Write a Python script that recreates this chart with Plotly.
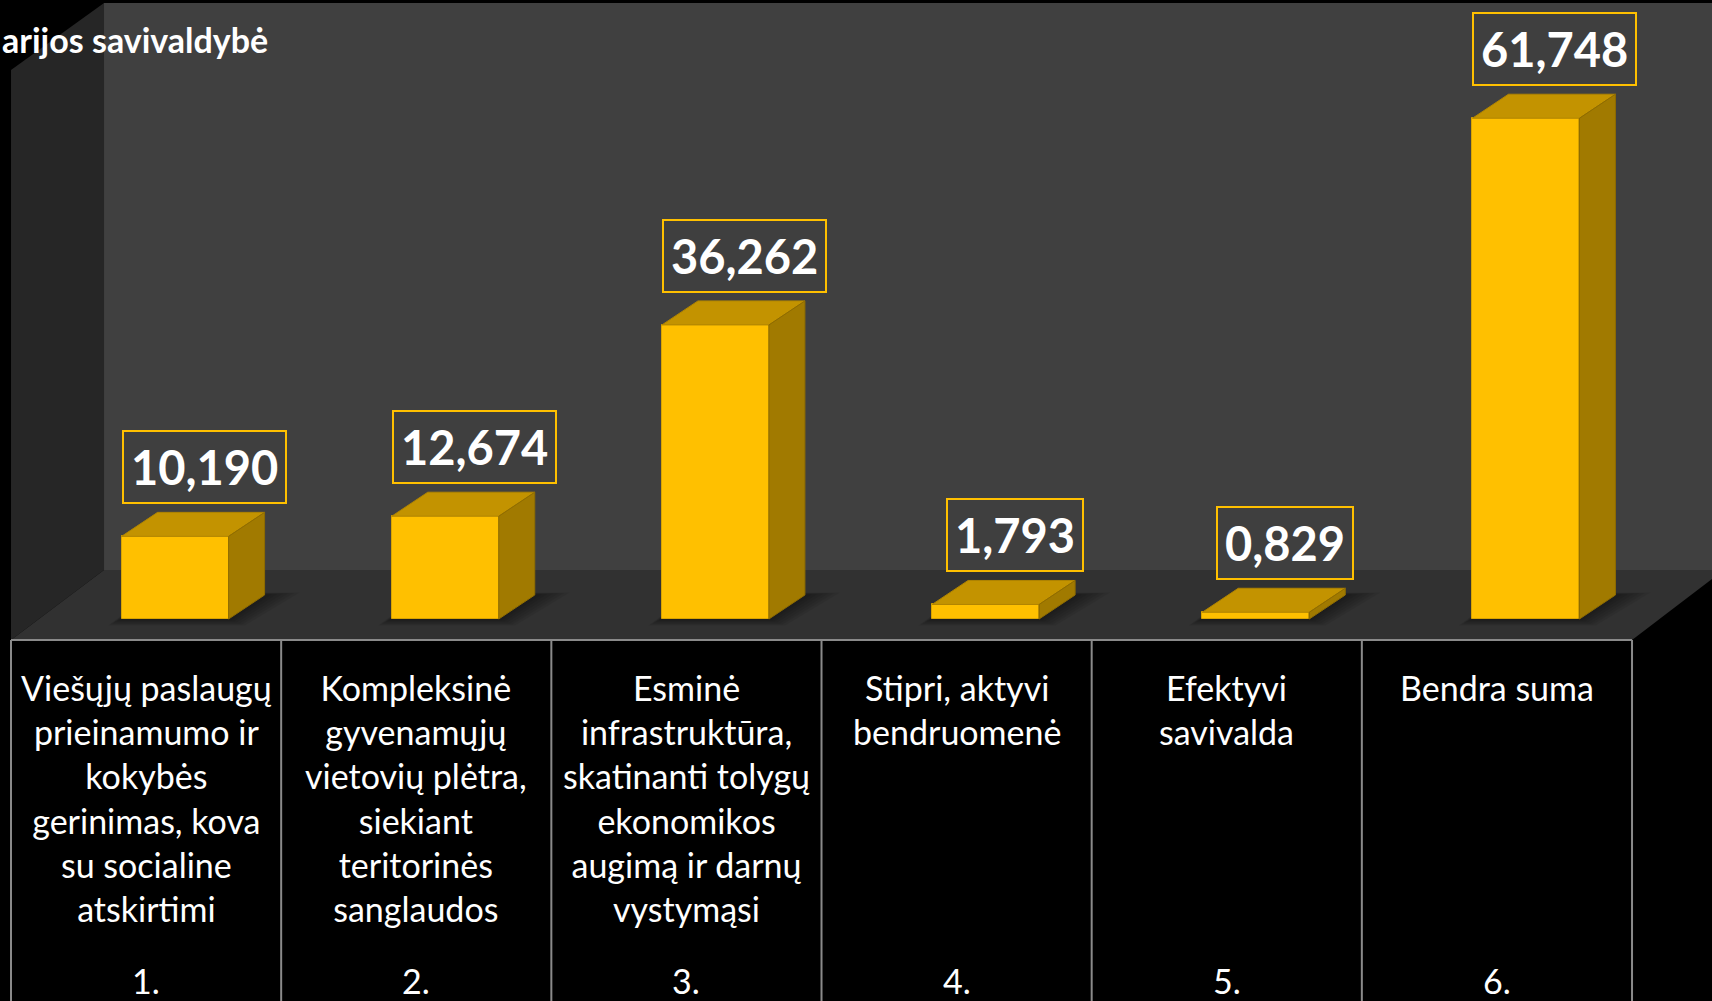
import plotly.graph_objects as go

# ---------------- data ----------------
categories = [
    "Viešųjų paslaugų<br>prieinamumo ir<br>kokybės<br>gerinimas, kova<br>su socialine<br>atskirtimi",
    "Kompleksinė<br>gyvenamųjų<br>vietovių plėtra,<br>siekiant<br>teritorinės<br>sanglaudos",
    "Esminė<br>infrastruktūra,<br>skatinanti tolygų<br>ekonomikos<br>augimą ir darnų<br>vystymąsi",
    "Stipri, aktyvi<br>bendruomenė",
    "Efektyvi<br>savivalda",
    "Bendra suma",
]
numbers = ["1.", "2.", "3.", "4.", "5.", "6."]
values = [10.190, 12.674, 36.262, 1.793, 0.829, 61.748]
value_labels = ["10,190", "12,674", "36,262", "1,793", "0,829", "61,748"]
title_text = "arijos savivaldybė"

# ---------------- geometry / style ----------------
W, H = 1712, 1001
COL_LEFT, COL_W = 11, 270.17
X0_PX = COL_LEFT + COL_W / 2
BASE_PX, PX_PER_Y = 619, 8.11
X_RANGE = [(0 - X0_PX) / COL_W, (W - X0_PX) / COL_W]
Y_RANGE = [-(H - BASE_PX) / PX_PER_Y, BASE_PX / PX_PER_Y]

BAR_OFF = 29 / COL_W
BAR_W = 107 / COL_W
DX = 36 / COL_W
DY = 24 / PX_PER_Y

GOLD = "#FFC000"
GOLD_TOP = "#C39300"
GOLD_SIDE = "#A17A00"
FONT = "Lato, 'Open Sans', sans-serif"


def P(x, y):
    return f"{x / W:.5f},{1 - y / H:.5f}"


def path(points):
    return "M " + " L ".join(P(x, y) for x, y in points) + " Z"


shapes = []
# back wall
shapes.append(dict(type="path", xref="paper", yref="paper", layer="below",
                   path=path([(104, 3), (W, 3), (W, 570), (104, 570)]),
                   fillcolor="#404040", line=dict(width=0)))
# left side wall
shapes.append(dict(type="path", xref="paper", yref="paper", layer="below",
                   path=path([(11, 70), (104, 3), (104, 570), (11, 640)]),
                   fillcolor="#262626", line=dict(width=0)))
# floor
shapes.append(dict(type="path", xref="paper", yref="paper", layer="below",
                   path=path([(11, 640), (104, 570), (W, 570), (W, 579), (1632, 640)]),
                   fillcolor="#313131", line=dict(width=0)))

xs = list(range(len(values)))

# soft floor shadows under the bars (data coordinates, below traces)
for i in xs:
    xl = i + BAR_OFF - BAR_W / 2
    xr = i + BAR_OFF + BAR_W / 2
    for k in range(6):
        grow = 0.10 - k * 0.016
        shapes.append(dict(type="path", xref="x", yref="y", layer="below",
                           path=(f"M {xl - grow * 0.5},{-grow * 8} "
                                 f"L {xr + grow * 0.6},{-grow * 8} "
                                 f"L {xr + DX + grow * 1.3},{DY + grow * 3} "
                                 f"L {xl + DX - grow * 0.2},{DY + grow * 3} Z"),
                           fillcolor="rgba(0,0,0,0.07)", line=dict(width=0)))

# table grid lines
shapes.append(dict(type="line", xref="paper", yref="paper", layer="above",
                   x0=11 / W, x1=1632 / W, y0=1 - 640 / H, y1=1 - 640 / H,
                   line=dict(color="#8a8a8a", width=2)))
for k in range(7):
    xp = COL_LEFT + COL_W * k
    shapes.append(dict(type="line", xref="paper", yref="paper", layer="above",
                       x0=xp / W, x1=xp / W, y0=1 - 640 / H, y1=0,
                       line=dict(color="#8a8a8a", width=2)))

fig = go.Figure()

# front faces
fig.add_trace(go.Bar(
    x=[i + BAR_OFF for i in xs], y=values, width=BAR_W,
    marker=dict(color=GOLD, line=dict(color="#D9A300", width=1)),
    hoverinfo="skip", showlegend=False))

# top and side faces
for i, v in zip(xs, values):
    xl = i + BAR_OFF - BAR_W / 2
    xr = i + BAR_OFF + BAR_W / 2
    fig.add_trace(go.Scatter(
        x=[xl, xr, xr + DX, xl + DX, xl], y=[v, v, v + DY, v + DY, v],
        fill="toself", fillcolor=GOLD_TOP, mode="lines",
        line=dict(color="#B08400", width=1), hoverinfo="skip", showlegend=False))
    fig.add_trace(go.Scatter(
        x=[xr, xr, xr + DX, xr + DX, xr], y=[0, v, v + DY, DY, 0],
        fill="toself", fillcolor=GOLD_SIDE, mode="lines",
        line=dict(color="#8F6C00", width=1), hoverinfo="skip", showlegend=False))

annotations = []
# value labels
for i, v, lab in zip(xs, values, value_labels):
    annotations.append(dict(
        x=i + BAR_OFF + 29 / COL_W, y=v + DY, xref="x", yref="y",
        text=f"<b>{lab}</b>", showarrow=False, xanchor="center", yanchor="bottom",
        yshift=8, font=dict(family=FONT, size=47, color="white"),
        bordercolor=GOLD, borderwidth=2, borderpad=7, bgcolor="#3f3f3f"))

# table text
for i, (cat, num) in enumerate(zip(categories, numbers)):
    annotations.append(dict(
        x=i, y=1 - 665 / H, xref="x", yref="paper", text=cat, showarrow=False,
        xanchor="center", yanchor="top", align="center",
        font=dict(family=FONT, size=34, color="white")))
    annotations.append(dict(
        x=i, y=1 - 980 / H, xref="x", yref="paper", text=num, showarrow=False,
        xanchor="center", yanchor="middle",
        font=dict(family=FONT, size=34, color="white")))

# title (partially visible in the reference)
annotations.append(dict(
    x=0, y=1 - 40 / H, xref="paper", yref="paper", text=f"<b>{title_text}</b>",
    showarrow=False, xanchor="left", yanchor="middle",
    font=dict(family=FONT, size=34, color="white")))

fig.update_layout(
    width=W, height=H,
    margin=dict(l=0, r=0, t=0, b=0),
    paper_bgcolor="black", plot_bgcolor="black",
    shapes=shapes, annotations=annotations,
    xaxis=dict(range=X_RANGE, visible=False, fixedrange=True),
    yaxis=dict(range=Y_RANGE, visible=False, fixedrange=True),
    bargap=0, showlegend=False,
)

fig.write_html(
    "out.html",
    config={"displayModeBar": False},
    post_script="document.body.style.margin='0';document.body.style.overflow='hidden';",
)
